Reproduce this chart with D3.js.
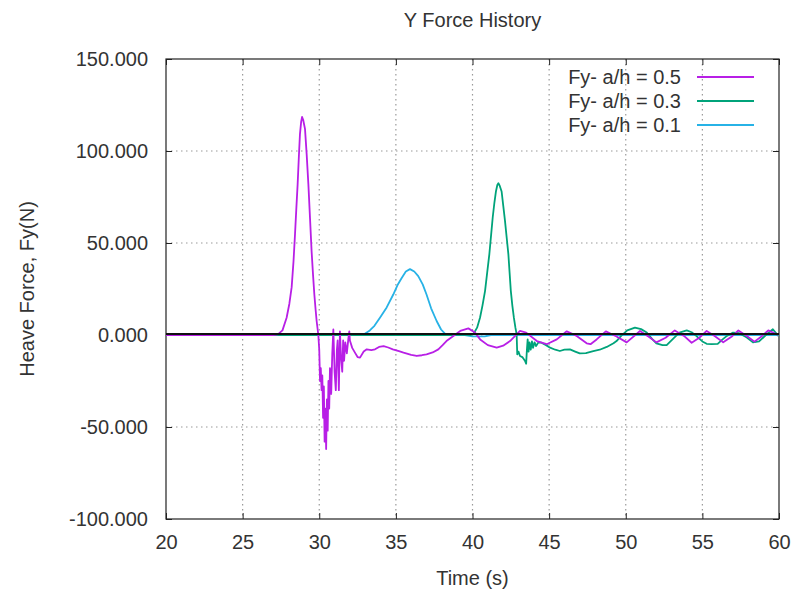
<!DOCTYPE html>
<html>
<head>
<meta charset="utf-8">
<script src="https://cdn.jsdelivr.net/npm/d3@7"></script>
<style>
  html, body { margin: 0; padding: 0; background: #fff; }
  svg text { font-family: "Liberation Sans", Arial, sans-serif; fill: #333; }
</style>
</head>
<body>
<svg id="chart" width="792" height="590"></svg>
<script>
// Time axis and force axis ticks
const xTicks = [20, 25, 30, 35, 40, 45, 50, 55, 60];
const yTicks = [-100, -50, 0, 50, 100, 150];

// Series names
const seriesNames = ["Fy- a/h = 0.5", "Fy- a/h = 0.3", "Fy- a/h = 0.1"];

// Heave force history, a/h = 0.5 : [time (s), Fy (N)]
const fyAh05 = [
  [20,0],[27.0,0],[27.3,0.3],[27.6,2.5],[27.87,9.4],[28.05,17],[28.2,26],[28.32,40],[28.42,55],
  [28.5,68],[28.59,82],[28.67,97],[28.74,109],[28.82,116],[28.88,118.5],[28.95,117],[29.07,112],
  [29.18,98],[29.29,82],[29.4,63],[29.5,45.6],[29.6,32],[29.68,22],[29.76,14],[29.83,7.6],[29.94,0],
  [30.0,-8],[30.05,-25],[30.1,-18],[30.15,-30],[30.2,-22],[30.25,-45],[30.3,-28],[30.35,-58],
  [30.4,-40],[30.45,-62],[30.5,-35],[30.55,-52],[30.6,-25],[30.65,-40],[30.7,-18],[30.78,-32],
  [30.85,-10],[30.92,3],[31.0,-20],[31.08,-30],[31.15,-8],[31.2,-3],[31.28,-30],[31.35,2],
  [31.42,-12],[31.5,-20],[31.56,-3],[31.62,-14],[31.7,-4],[31.8,-10],[31.9,-2],[31.96,2],[32.0,-3],
  [32.15,-7],[32.33,-9.6],[32.5,-12],[32.66,-12.3],[32.9,-9],[33.1,-7.8],[33.4,-8.2],[33.64,-7.8],
  [33.9,-6.5],[34.2,-6],[34.5,-6.8],[34.8,-7.8],[35.2,-8.8],[35.5,-9.6],[36.0,-10.8],[36.36,-11.4],
  [36.7,-11],[37.0,-10.5],[37.4,-9.5],[37.77,-7.8],[38.05,-5.5],[38.3,-3.3],[38.75,-0.5],[39.2,2.2],
  [39.73,3.6],[40.16,1.3],[40.5,-2.4],[41.0,-5.5],[41.58,-6.9],[42.0,-5.8],[42.45,-3.3],[43.1,2.2],
  [43.5,1.3],[44.2,-3.3],[44.84,-5],[45.5,-2.4],[46.15,2],[46.8,-0.5],[47.45,-4.5],[47.7,-5],
  [48.1,-2.4],[48.7,2],[49.4,-0.8],[50.06,-4],[50.93,2.2],[51.5,-1],[52.0,-4],[52.6,-1.5],[53.2,2.5],
  [53.8,-0.5],[54.3,-4.2],[54.8,-1.5],[55.28,2.2],[55.8,-0.5],[56.36,-4],[56.9,-1],[57.35,2.5],
  [57.9,-0.5],[58.4,-3.6],[58.9,-0.5],[59.3,2.5],[59.95,0]
];

// Heave force history, a/h = 0.3
const fyAh03 = [
  [20,0],[38.5,0],[39.3,0.2],[39.9,0],[40.05,0.4],[40.3,4],[40.49,9.4],[40.65,16],[40.82,24],
  [40.96,34],[41.1,44],[41.21,54],[41.32,64],[41.43,72],[41.53,78],[41.62,81.5],[41.69,82.5],
  [41.78,81],[41.9,78],[42.01,70],[42.12,62],[42.23,53],[42.34,44],[42.42,34],[42.5,24],[42.6,16],
  [42.7,9.4],[42.8,4],[42.88,0.4],[42.92,-10.5],[43.0,-9],[43.1,-11.4],[43.25,-12],[43.42,-14],
  [43.5,-15.6],[43.55,-8],[43.6,-2.4],[43.66,-9],[43.72,-4],[43.8,-8],[43.88,-3.5],[43.95,-7],
  [44.05,-4],[44.15,-6],[44.3,-4],[44.5,-4.2],[44.8,-5.5],[45.06,-6.9],[45.4,-8],[45.7,-8.7],
  [46.0,-8],[46.36,-7.8],[46.7,-9],[47.0,-10],[47.4,-9.8],[47.88,-8.7],[48.3,-8],[48.76,-6.5],
  [49.2,-4.5],[49.4,-3.3],[49.7,-0.5],[50.1,2.5],[50.6,4],[51.0,3.2],[51.37,1.3],[51.7,-2],
  [52.0,-4.5],[52.4,-5.5],[52.67,-5.5],[53.1,-2],[53.5,1.3],[53.98,2.5],[54.3,1.5],[54.6,-0.5],
  [55.0,-3.5],[55.28,-4.8],[55.6,-5],[56.0,-4.8],[56.3,-2.5],[56.6,-0.5],[57.0,1.3],[57.4,1],
  [57.9,-1.4],[58.3,-4],[58.7,-3.5],[59.2,0.4],[59.6,3.1],[59.95,-0.5]
];

// Heave force history, a/h = 0.1
const fyAh01 = [
  [20,0],[32.5,0],[32.9,0.3],[33.3,2.5],[33.6,5],[33.96,9.4],[34.4,15],[34.83,22],[35.1,27],
  [35.38,31],[35.65,34.5],[35.92,35.8],[36.2,34.5],[36.46,32],[36.75,27.5],[37.0,22],[37.3,14.5],
  [37.66,7.6],[37.95,3],[38.2,0.7],[38.5,0],[39.5,0],[40.0,-0.8],[40.8,-0.8],[41.2,0],[60,0]
];

const series = [
  { name: seriesNames[0], data: fyAh05, color: "#b81fe6" },
  { name: seriesNames[1], data: fyAh03, color: "#00a37a" },
  { name: seriesNames[2], data: fyAh01, color: "#27b2e6" }
];

const FONT = "20px";
const svg = d3.select("#chart");
const margin = { left: 166, right: 13, top: 59, bottom: 71 };
const W = 792, H = 590;
const x0 = margin.left, x1 = W - margin.right;
const y0 = margin.top, y1 = H - margin.bottom;

const x = d3.scaleLinear().domain([20, 60]).range([x0, x1]);
const y = d3.scaleLinear().domain([-100, 150]).range([y1, y0]);

// Dotted grid
const grid = svg.append("g").attr("stroke", "#9a9a9a").attr("stroke-width", 1.2)
  .attr("stroke-dasharray", "1.5,3.5");
grid.selectAll(".gx").data(xTicks.slice(1, -1)).join("line")
  .attr("x1", d => x(d)).attr("x2", d => x(d)).attr("y1", y0).attr("y2", y1);
grid.selectAll(".gy").data(yTicks.slice(1, -1)).join("line")
  .attr("x1", x0).attr("x2", x1).attr("y1", d => y(d)).attr("y2", d => y(d));

// Axes with inward ticks on all four sides
const tickLen = 6;
const fmtY = d => d3.format(".3f")(d).replace("\u2212", "-");
const axL = svg.append("g").attr("transform", `translate(${x0},0)`)
  .call(d3.axisLeft(y).tickValues(yTicks).tickSize(-tickLen).tickPadding(18).tickFormat(fmtY));
const axR = svg.append("g").attr("transform", `translate(${x1},0)`)
  .call(d3.axisRight(y).tickValues(yTicks).tickSize(-tickLen).tickFormat(""));
const axB = svg.append("g").attr("transform", `translate(0,${y1})`)
  .call(d3.axisBottom(x).tickValues(xTicks).tickSize(-tickLen).tickPadding(16).tickFormat(d3.format("d")));
const axT = svg.append("g").attr("transform", `translate(0,${y0})`)
  .call(d3.axisTop(x).tickValues(xTicks).tickSize(-tickLen).tickFormat(""));
[axL, axR, axB, axT].forEach(a => {
  a.select(".domain").remove();
  a.selectAll("line").attr("stroke", "#222");
  a.selectAll("text").style("font-size", FONT).attr("fill", "#333");
});

// Border
svg.append("rect").attr("x", x0).attr("y", y0).attr("width", x1 - x0).attr("height", y1 - y0)
  .attr("fill", "none").attr("stroke", "#222").attr("stroke-width", 1.2);

// Data lines
const line = d3.line().x(d => x(d[0])).y(d => y(d[1]));
const plot = svg.append("g");
series.slice().reverse().forEach(s => {
  plot.append("path").datum(s.data).attr("d", line)
    .attr("fill", "none").attr("stroke", s.color).attr("stroke-width", 1.8)
    .attr("stroke-linejoin", "round");
});

// Zero line
svg.append("line").attr("x1", x0).attr("x2", x1)
  .attr("y1", y(0) - 1).attr("y2", y(0) - 1)
  .attr("stroke", "#111").attr("stroke-width", 1.8);

// Legend
const legend = svg.append("g");
series.forEach((s, i) => {
  const ly = 77 + i * 24;
  legend.append("text").attr("x", 681).attr("y", ly).attr("dy", "0.35em")
    .attr("text-anchor", "end").style("font-size", FONT).text(s.name);
  legend.append("line").attr("x1", 697).attr("x2", 754).attr("y1", ly).attr("y2", ly)
    .attr("stroke", s.color).attr("stroke-width", 1.8);
});

// Titles
svg.append("text").attr("x", (x0 + x1) / 2).attr("y", 27).attr("text-anchor", "middle")
  .style("font-size", FONT).text("Y Force History");
svg.append("text").attr("x", (x0 + x1) / 2).attr("y", 585).attr("text-anchor", "middle")
  .style("font-size", FONT).text("Time (s)");
svg.append("text").attr("transform", `translate(34,${(y0 + y1) / 2}) rotate(-90)`)
  .attr("text-anchor", "middle").style("font-size", FONT).text("Heave Force, Fy(N)");
</script>
</body>
</html>
